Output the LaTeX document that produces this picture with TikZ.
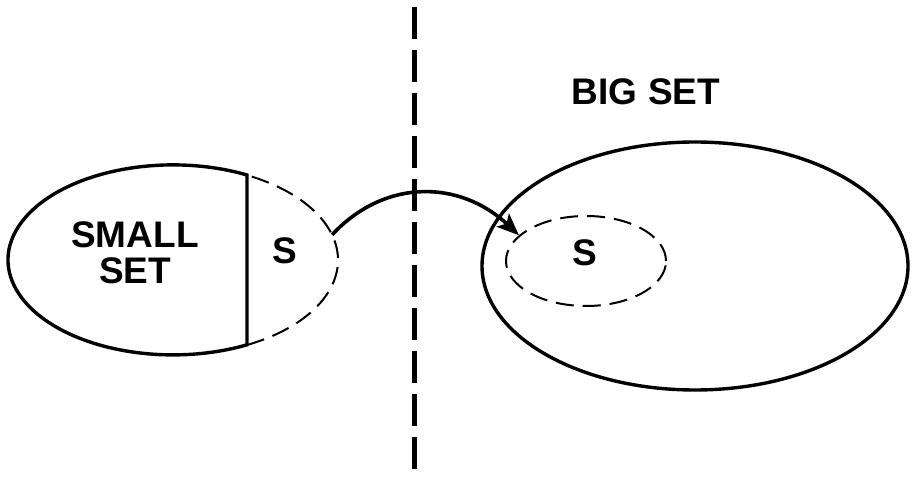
\documentclass[tikz,border=0pt]{standalone}
\usepackage{fontspec}
\setmainfont{Liberation Sans}
\usetikzlibrary{shapes.geometric,arrows.meta}
\begin{document}
\begin{tikzpicture}[x=1pt,y=1pt,
  lbl/.style={font=\bfseries\fontsize{37}{36}\selectfont, inner sep=0pt, align=center},
  solidline/.style={line width=3.4pt},
  dashline/.style={line width=2pt, dash pattern=on 18pt off 9pt},
  divider/.style={line width=5pt, dash pattern=on 32pt off 11pt},
  arrowline/.style={line width=3.6pt, -{Stealth[length=22pt,width=18pt,inset=5pt]}}]
\useasboundingbox (0,0) rectangle (918,490);
% small set
\node[ellipse, minimum width=330pt, minimum height=190pt, inner sep=0pt, outer sep=0pt] (small) at (173,230) {};
\draw[solidline] (247,315) arc[start angle=63.35, end angle=296.65, x radius=165pt, y radius=95pt] -- cycle;
\draw[dashline] (247,145) arc[start angle=-63.35, end angle=63.35, x radius=165pt, y radius=95pt];
\node[lbl] (smalltxt) at (135,237) {SMALL\\SET};
\node[lbl] (s1) at (285,239) {S};
% big set
\node[draw, ellipse, solidline, minimum width=426pt, minimum height=248pt, inner sep=0pt] (big) at (695,224) {};
\node[draw, ellipse, dashline, minimum width=160pt, minimum height=90pt, inner sep=0pt] (inner) at (586,229) {};
\node[lbl] (s2) at (585,237) {S};
\node[lbl] (bigtxt) at (646,398) {BIG SET};
% arrow
\draw[arrowline] (small.9) .. controls (385,312) and (460,310) .. (inner.159);
% divider
\coordinate (vtop) at (414,483);
\coordinate (vbot) at (414,17);
\draw[divider] (vtop) -- (vbot);
\end{tikzpicture}
\end{document}
